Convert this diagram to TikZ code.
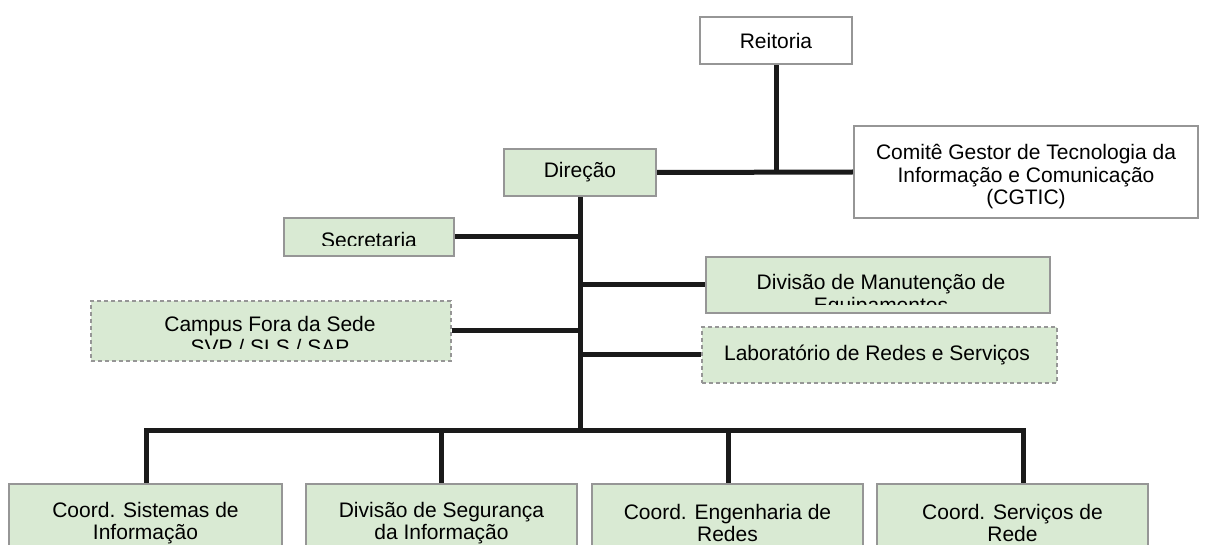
\documentclass[tikz,border=0pt]{standalone}
\usepackage{fontspec}
\setmainfont{Liberation Sans}
\usetikzlibrary{backgrounds}
\definecolor{boxgray}{RGB}{150,150,150}
\definecolor{boxgreen}{RGB}{217,234,211}
\definecolor{linek}{RGB}{26,26,26}
\begin{document}
\begin{tikzpicture}[x=1pt,y=-1pt,
  every node/.style={font=\fontsize{21pt}{22.5pt}\selectfont, inner sep=0pt, align=center, text=black},
  gbox/.style={draw=boxgray, line width=1.5pt, fill=boxgreen, rectangle},
  wbox/.style={draw=boxgray, line width=1.5pt, fill=white, rectangle},
  dbox/.style={gbox, dash pattern=on 4pt off 3pt},
  conn/.style={draw=linek, line width=5pt},
  txt/.style={anchor=base}
]
\useasboundingbox (0,0) rectangle (1208,545);
\clip (0,0) rectangle (1208,545);

% top level
\node[wbox, minimum width=152pt, minimum height=47pt] (reit) at (776,40.5) {Reitoria};
\node[gbox, minimum width=152pt, minimum height=47pt] (dir) at (580,172.5) {Direção};
\node[wbox, minimum width=344pt, minimum height=92pt] (cgt) at (1026,172) {};
\node (cgtt) at (1026,177) {Comitê Gestor de Tecnologia da\\Informação e Comunicação\\(CGTIC)};

% Secretaria (text clipped)
\node[gbox, minimum width=170pt, minimum height=38pt] (sec) at (369,237) {};
\begin{scope}
  \clip (284,218) rectangle (454,246);
  \node[txt] (sect) at (369,248) {Secretaria};
\end{scope}

% Divisao de Manutencao (text clipped)
\node[gbox, minimum width=344pt, minimum height=56pt] (dm) at (878,285) {};
\begin{scope}
  \clip (706,257) rectangle (1050,305);
  \node[txt] (dmt1) at (881,290) {Divisão de Manutenção de};
  \node[txt] (dmt2) at (881,312.5) {Equipamentos};
\end{scope}

% Campus (dashed, text clipped)
\node[dbox, minimum width=360pt, minimum height=60pt] (cmp) at (271,331) {};
\begin{scope}
  \clip (91,301) rectangle (451,349);
  \node[txt] (cmpt1) at (270,332) {Campus Fora da Sede};
  \node[txt] (cmpt2) at (270,354.5) {SVP / SLS / SAP};
\end{scope}

% Laboratorio (dashed)
\node[dbox, minimum width=355pt, minimum height=56pt] (lab) at (879.5,355) {};
\node[txt] (labt) at (877,360) {Laboratório de Redes e Serviços};

% bottom row
\node[gbox, minimum width=273pt, minimum height=78pt] (b1) at (145.5,523) {Coord. Sistemas de\\Informação};
\node[gbox, minimum width=271pt, minimum height=78pt] (b2) at (441.5,523) {Divisão de Segurança\\da Informação};
\node[gbox, minimum width=271pt, minimum height=78pt] (b3) at (727.5,523) {Coord. Engenharia de\\Redes};
\node[gbox, minimum width=271pt, minimum height=78pt] (b4) at (1012.5,523) {Coord. Serviços de\\Rede};

\coordinate (bus) at (580,430);
\coordinate (c1) at (146,430);
\coordinate (c2) at (441,430);
\coordinate (c3) at (728,430);
\coordinate (c4) at (1023,430);

\begin{pgfonlayer}{background}
  \draw[conn] (reit.south) -- (reit.south |- dir.east);
  \draw[conn] (dir.east) -- (cgt.west);
  \draw[conn] (dir.south) -- (bus);
  \draw[conn] (sec.east) -- (sec.east -| bus);
  \draw[conn] (dm.west) -- (dm.west -| bus);
  \draw[conn] (cmp.east) -- (cmp.east -| bus);
  \draw[conn] (lab.west) -- (lab.west -| bus);
  \draw[conn] (c1 |- b1.north) -- (c1) -- (c4) -- (c4 |- b4.north);
  \draw[conn] (c2) -- (c2 |- b2.north);
  \draw[conn] (c3) -- (c3 |- b3.north);
\end{pgfonlayer}
\end{tikzpicture}
\end{document}
